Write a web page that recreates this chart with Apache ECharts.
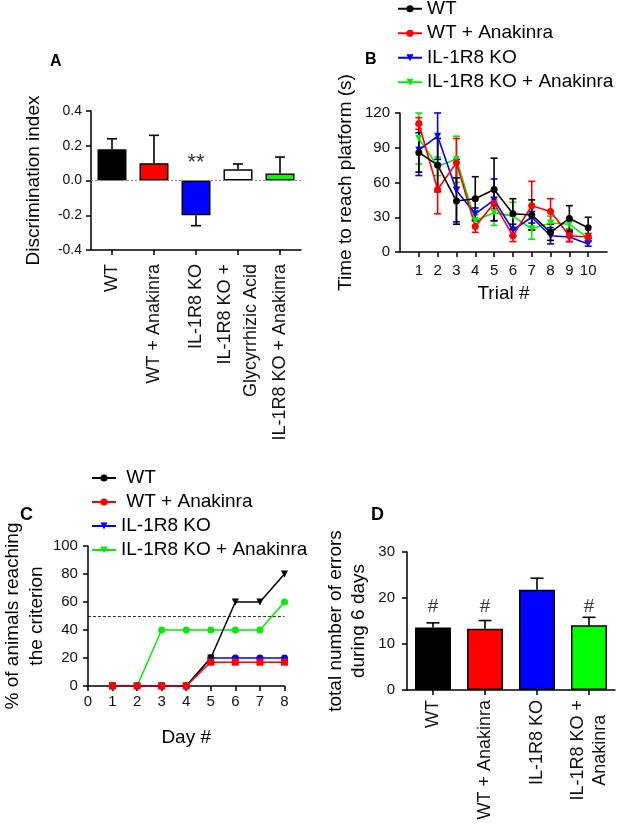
<!DOCTYPE html>
<html>
<head>
<meta charset="utf-8">
<script src="https://cdn.jsdelivr.net/npm/echarts@6/dist/echarts.min.js"></script>
<style>
  html, body { margin: 0; padding: 0; background: #fff; }
  #main { width: 617px; height: 837px; }
</style>
</head>
<body>
<div id="main"></div>
<script>
// panel A - discrimination index
const groupsA = ['WT', 'WT + Anakinra', 'IL-1R8 KO', 'IL-1R8 KO +\nGlycyrrhizic Acid', 'IL-1R8 KO + Anakinra'];
const meanA = [0.18, 0.10, -0.20, 0.065, 0.04];
const errEndA = [0.24, 0.26, -0.26, 0.095, 0.135];
const colorA = ['#000000', '#ff0000', '#0000ff', '#ffffff', '#00ff00'];
const starsA = [[2, 0.1]];

// panel B - time to reach platform
const trials = [1, 2, 3, 4, 5, 6, 7, 8, 9, 10];
const wtB = [86, 75, 44, 46, 54, 33, 32, 17, 29, 21];
const wtSemB = [17, 23, 20, 19, 27, 13, 13, 7, 11, 9];
const wtAnaB = [111, 54, 77, 22, 42, 14, 40, 35, 14, 13];
const wtAnaSemB = [5, 21, 21, 5, 5, 5, 21, 11, 5, 3];
const koB = [88, 100, 53, 33, 45, 19, 30, 14, 13, 7];
const koSemB = [22, 20, 27, 5, 18, 5, 5, 7, 4, 2];
const koAnaB = [98, 74, 80, 27, 34, 31, 20, 25, 24, 12];
const koAnaSemB = [22, 8, 20, 5, 11, 12, 9, 6, 4, 2];

// panel C - % of animals reaching criterion
const days = [1, 2, 3, 4, 5, 6, 7, 8];
const wtC = [0, 0, 0, 0, 20, 60, 60, 80];
const wtAnaC = [0, 0, 0, 0, 17, 17, 17, 17];
const koC = [0, 0, 0, 0, 20, 20, 20, 20];
const koAnaC = [0, 0, 40, 40, 40, 40, 40, 60];
const criterionC = 50;

// panel D - total errors
const groupsD = ['WT', 'WT + Anakinra', 'IL-1R8 KO', 'IL-1R8 KO +\nAnakinra'];
const meanD = [13.6, 13.3, 21.8, 14.1];
const errEndD = [14.6, 15.1, 24.3, 15.8];
const colorD = ['#000000', '#ff0000', '#0000ff', '#00ff00'];
const hashD = [[0, 18], [1, 18], [3, 18]];

const names = ['WT', 'WT + Anakinra', 'IL-1R8 KO', 'IL-1R8 KO + Anakinra'];
const FONT = 'Liberation Sans, Arial, sans-serif';

function errBar(color, capW, both) {
  return function (params, api) {
    const x = api.value(0);
    const p0 = api.coord([x, api.value(1)]);
    const p1 = api.coord([x, api.value(2)]);
    const st = { stroke: color, lineWidth: 1.6 };
    const kids = [
      { type: 'line', shape: { x1: p0[0], y1: p0[1], x2: p1[0], y2: p1[1] }, style: st },
      { type: 'line', shape: { x1: p1[0] - capW / 2, y1: p1[1], x2: p1[0] + capW / 2, y2: p1[1] }, style: st }
    ];
    if (both) {
      kids.push({ type: 'line', shape: { x1: p0[0] - capW / 2, y1: p0[1], x2: p0[0] + capW / 2, y2: p0[1] }, style: st });
    }
    return { type: 'group', children: kids };
  };
}

function axisLine() {
  return { show: true, onZero: false, lineStyle: { color: '#000', width: 1.5 } };
}
function tick() {
  return { show: true, length: 5, lineStyle: { color: '#000', width: 1.5 } };
}
function label(size, margin) {
  return { color: '#111', fontSize: size, fontFamily: FONT, margin: margin };
}
const titleStyle = { color: '#000', fontSize: 19, fontFamily: FONT };

const chart = echarts.init(document.getElementById('main'));

const bSets = [
  { name: 'IL-1R8 KO + Anakinra', m: koAnaB, s: koAnaSemB, color: '#00ee00', symbol: 'triangle', rot: 180 },
  { name: 'IL-1R8 KO', m: koB, s: koSemB, color: '#0000ff', symbol: 'triangle', rot: 180 },
  { name: 'WT + Anakinra', m: wtAnaB, s: wtAnaSemB, color: '#ff0000', symbol: 'circle', rot: 0 },
  { name: 'WT', m: wtB, s: wtSemB, color: '#000000', symbol: 'circle', rot: 0 }
];

const series = [];

// A
series.push({
  type: 'bar', xAxisIndex: 0, yAxisIndex: 0, barWidth: 29,
  data: meanA.map((v, i) => ({ value: v, itemStyle: { color: colorA[i] } })),
  itemStyle: { borderColor: '#000', borderWidth: 1.5 },
  markLine: {
    silent: true, symbol: 'none', label: { show: false },
    lineStyle: { color: '#888', type: [2, 2], width: 1 },
    data: [{ yAxis: 0 }]
  }
});
series.push({
  type: 'custom', xAxisIndex: 0, yAxisIndex: 0, name: 'errA',
  renderItem: errBar('#000', 10, false),
  encode: { x: 0, y: [1, 2] },
  data: meanA.map((v, i) => [i, v, errEndA[i]])
});
series.push({
  type: 'scatter', xAxisIndex: 0, yAxisIndex: 0, symbolSize: 1,
  itemStyle: { color: 'rgba(0,0,0,0)' },
  label: { show: true, position: 'inside', formatter: '**', fontSize: 22, fontFamily: FONT, color: '#000' },
  data: starsA
});

// B - error bars under the lines
bSets.forEach(s => {
  series.push({
    type: 'custom', xAxisIndex: 1, yAxisIndex: 1, name: s.name + ' err',
    renderItem: errBar(s.color, 7, true),
    encode: { x: 0, y: [1, 2] },
    data: trials.map((t, i) => [t, s.m[i] - s.s[i], s.m[i] + s.s[i]])
  });
});
bSets.forEach(s => {
  series.push({
    type: 'line', xAxisIndex: 1, yAxisIndex: 1, name: s.name,
    symbol: s.symbol, symbolRotate: s.rot, symbolSize: 7,
    itemStyle: { color: s.color }, lineStyle: { color: s.color, width: 1.6 },
    data: trials.map((t, i) => [t, s.m[i]])
  });
});

// C
const cSets = [
  { name: 'IL-1R8 KO + Anakinra', d: koAnaC, color: '#00ee00', symbol: 'circle', rot: 0 },
  { name: 'IL-1R8 KO', d: koC, color: '#0000ff', symbol: 'circle', rot: 0 },
  { name: 'WT', d: wtC, color: '#000000', symbol: 'triangle', rot: 180 },
  { name: 'WT + Anakinra', d: wtAnaC, color: '#ff0000', symbol: 'rect', rot: 0 }
];
cSets.forEach((s, k) => {
  series.push({
    type: 'line', xAxisIndex: 2, yAxisIndex: 2, name: s.name,
    symbol: s.symbol, symbolRotate: s.rot, symbolSize: 7,
    itemStyle: { color: s.color }, lineStyle: { color: s.color, width: 1.5 },
    data: days.map((d, i) => [d, s.d[i]]),
    markLine: k === 0 ? {
      silent: true, symbol: 'none', label: { show: false },
      lineStyle: { color: '#000', type: [3, 2], width: 0.8 },
      data: [{ yAxis: criterionC }]
    } : undefined
  });
});

// D
series.push({
  type: 'bar', xAxisIndex: 3, yAxisIndex: 3, barWidth: 36,
  data: meanD.map((v, i) => ({ value: v, itemStyle: { color: colorD[i] } })),
  itemStyle: { borderColor: '#000', borderWidth: 1.5 }
});
series.push({
  type: 'custom', xAxisIndex: 3, yAxisIndex: 3, name: 'errD',
  renderItem: errBar('#000', 13, false),
  encode: { x: 0, y: [1, 2] },
  data: meanD.map((v, i) => [i, v, errEndD[i]])
});
series.push({
  type: 'scatter', xAxisIndex: 3, yAxisIndex: 3, symbolSize: 1,
  itemStyle: { color: 'rgba(0,0,0,0)' },
  label: { show: true, position: 'inside', formatter: '#', fontSize: 19, fontFamily: FONT, color: '#000' },
  data: hashD
});

const legendBase = {
  orient: 'vertical', selectedMode: false, data: names,
  itemWidth: 24, itemHeight: 9, itemGap: 0,
  textStyle: { fontSize: 19, fontFamily: FONT, color: '#000', lineHeight: 24.5 }
};

chart.setOption({
  animation: false,
  backgroundColor: '#fff',
  legend: [
    Object.assign({}, legendBase, { left: 392, top: -8.5 }),
    Object.assign({}, legendBase, {
      left: 86, top: 461,
      textStyle: Object.assign({}, legendBase.textStyle, { lineHeight: 24 }),
      formatter: n => (n.indexOf('WT') === 0 ? ' ' : '') + n
    })
  ],
  graphic: [
    { type: 'text', left: 50, top: 54, style: { text: 'A', font: 'bold 16px ' + FONT, fill: '#000' } },
    { type: 'text', left: 365, top: 52, style: { text: 'B', font: 'bold 16px ' + FONT, fill: '#000' } },
    { type: 'text', left: 20, top: 506, style: { text: 'C', font: 'bold 18px ' + FONT, fill: '#000' } },
    { type: 'text', left: 371, top: 506, style: { text: 'D', font: 'bold 18px ' + FONT, fill: '#000' } }
  ],
  grid: [
    { left: 91, top: 111, width: 210, height: 139 },
    { left: 400, top: 113, width: 207, height: 139 },
    { left: 76, top: 546, width: 208.5, height: 140 },
    { left: 407, top: 552, width: 208, height: 138 }
  ],
  xAxis: [
    {
      gridIndex: 0, type: 'category', data: groupsA,
      axisLine: axisLine(), axisTick: Object.assign(tick(), { alignWithLabel: true }),
      axisLabel: Object.assign(label(18, 14), { rotate: 90, interval: 0, lineHeight: 26 })
    },
    {
      gridIndex: 1, type: 'value', min: 0, max: 11, interval: 1,
      axisLine: axisLine(),
      axisTick: Object.assign(tick(), { customValues: trials }),
      axisLabel: Object.assign(label(15, 11), {
        customValues: trials,
        formatter: v => (v >= 1 && v <= 10 ? String(v) : '')
      }),
      splitLine: { show: false },
      name: 'Trial #', nameLocation: 'middle', nameGap: 32, nameTextStyle: titleStyle
    },
    {
      gridIndex: 2, type: 'value', min: 0, max: 8, interval: 1,
      axisLine: axisLine(), axisTick: tick(),
      axisLabel: label(15, 8),
      splitLine: { show: false },
      name: 'Day #', nameLocation: 'middle', nameGap: 42, nameTextStyle: titleStyle
    },
    {
      gridIndex: 3, type: 'category', data: groupsD,
      axisLine: axisLine(), axisTick: Object.assign(tick(), { alignWithLabel: true }),
      axisLabel: Object.assign(label(18, 10), {
        rotate: 90, interval: 0,
        formatter: v => v.indexOf('\n') >= 0 ? v.split('\n').map(s => '{c|' + s + '}').join('\n') : v,
        rich: { c: { align: 'center', fontSize: 18, fontFamily: FONT, color: '#111', lineHeight: 22 } }
      })
    }
  ],
  yAxis: [
    {
      gridIndex: 0, type: 'value', min: -0.4, max: 0.4, interval: 0.2,
      axisLine: axisLine(), axisTick: tick(),
      axisLabel: Object.assign(label(14, 9), { formatter: v => v.toFixed(1) }),
      splitLine: { show: false },
      name: 'Discrimination index', nameLocation: 'middle', nameGap: 48, nameTextStyle: titleStyle
    },
    {
      gridIndex: 1, type: 'value', min: 0, max: 120, interval: 30,
      axisLine: axisLine(), axisTick: tick(),
      axisLabel: label(15, 10),
      splitLine: { show: false },
      name: 'Time to reach platform (s)', nameLocation: 'middle', nameGap: 45, nameTextStyle: titleStyle
    },
    {
      gridIndex: 2, type: 'value', min: 0, max: 100, interval: 20,
      axisLine: axisLine(), axisTick: tick(),
      axisLabel: label(15, 10),
      splitLine: { show: false },
      name: '% of animals reaching\nthe criterion', nameLocation: 'middle', nameGap: 30,
      nameTextStyle: Object.assign({}, titleStyle, { lineHeight: 24 })
    },
    {
      gridIndex: 3, type: 'value', min: 0, max: 30, interval: 10,
      axisLine: axisLine(), axisTick: tick(),
      axisLabel: label(15, 12),
      splitLine: { show: false },
      name: 'total number of errors\nduring 6 days', nameLocation: 'middle', nameGap: 37,
      nameTextStyle: Object.assign({}, titleStyle, { lineHeight: 23 })
    }
  ],
  series: series
});
</script>
</body>
</html>
